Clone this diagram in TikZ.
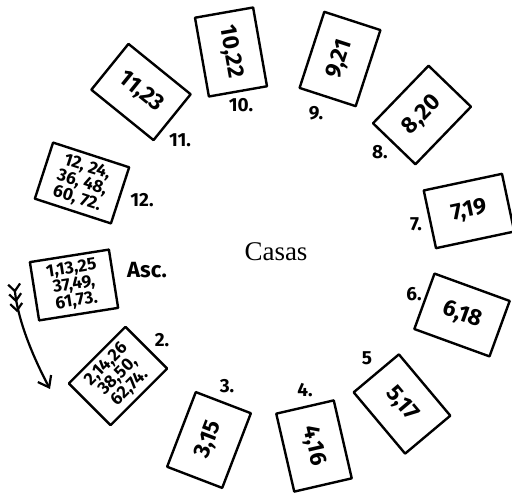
\documentclass[tikz,border=0pt]{standalone}
\usepackage{fontspec}
\setmainfont{Liberation Serif}
\newfontfamily\handfont{Fira Sans}
\usetikzlibrary{arrows.meta}
\tikzset{
  casa/.style={draw, line width=2.4pt, line join=round, minimum width=80pt,
               minimum height=59pt, inner sep=0pt,
               font=\handfont\bfseries\fontsize{23}{23}\selectfont},
  casa3/.style={casa, align=center, font=\handfont\bfseries\fontsize{17.5}{16.5}\selectfont},
  numlabel/.style={inner sep=0pt, font=\handfont\bfseries\fontsize{19}{19}\selectfont},
  arrow/.style={line width=2.2pt, line cap=round,
                arrows={Straight Barb[reversed,length=7pt,width=12pt,line width=2.2pt]Straight Barb[reversed,length=7pt,width=12pt,line width=2.2pt]Straight Barb[reversed,length=7pt,width=12pt,line width=2.2pt]-Straight Barb[length=10pt,width=15pt,line width=2.2pt]}},
}
\begin{document}
\begin{tikzpicture}[x=1pt, y=-1pt]
  \useasboundingbox (0,0) rectangle (512,494);

  % the twelve houses
  \node[casa3, rotate=9]   (asc) at (74,285)  {1,13,25\\37,49,\\61,73.};
  \node[casa3, rotate=45]  (c2)  at (118,376) {2,14,26\\38,50,\\62,74.};
  \node[casa, rotate=69]   (c3)  at (209,440) {3,15};
  \node[casa, rotate=-77]  (c4)  at (314,446) {4,16};
  \node[casa, rotate=-50]  (c5)  at (402,404) {5,17};
  \node[casa, rotate=-20]  (c6)  at (462,315) {6,18};
  \node[casa, rotate=12]   (c7)  at (469,211) {7,19};
  \node[casa, rotate=46]   (c8)  at (422,115) {8,20};
  \node[casa, rotate=72]   (c9)  at (340,59)  {9,21};
  \node[casa, rotate=-80]  (c10) at (231,52)  {10,22};
  \node[casa, rotate=-39]  (c11) at (141,92)  {11,23};
  \node[casa3, rotate=-18] (c12) at (82,183)  {12, 24,\\36, 48,\\60, 72.};

  % house numbers
  \node[numlabel, font=\handfont\bfseries\fontsize{22}{22}\selectfont] (nasc) at (147,270) {Asc.};
  \node[numlabel] (n2)  at (162,340) {2.};
  \node[numlabel] (n3)  at (227,386) {3.};
  \node[numlabel] (n4)  at (305,390) {4.};
  \node[numlabel] (n5)  at (367,358) {5};
  \node[numlabel] (n6)  at (414,294) {6.};
  \node[numlabel] (n7)  at (416,224) {7.};
  \node[numlabel] (n8)  at (380,152) {8.};
  \node[numlabel] (n9)  at (316,113) {9.};
  \node[numlabel] (n10) at (241,105) {10.};
  \node[numlabel] (n11) at (180,140) {11.};
  \node[numlabel] (n12) at (142,200) {12.};

  \node[anchor=base, inner sep=0pt, font=\fontsize{27}{27}\selectfont] (casas) at (276,261) {Casas};

  % direction of the houses
  \coordinate (tail) at (14,283);
  \coordinate (head) at (50,389);
  \draw[arrow] (tail) .. controls (18,320) and (32,355) .. (head);
\end{tikzpicture}
\end{document}
